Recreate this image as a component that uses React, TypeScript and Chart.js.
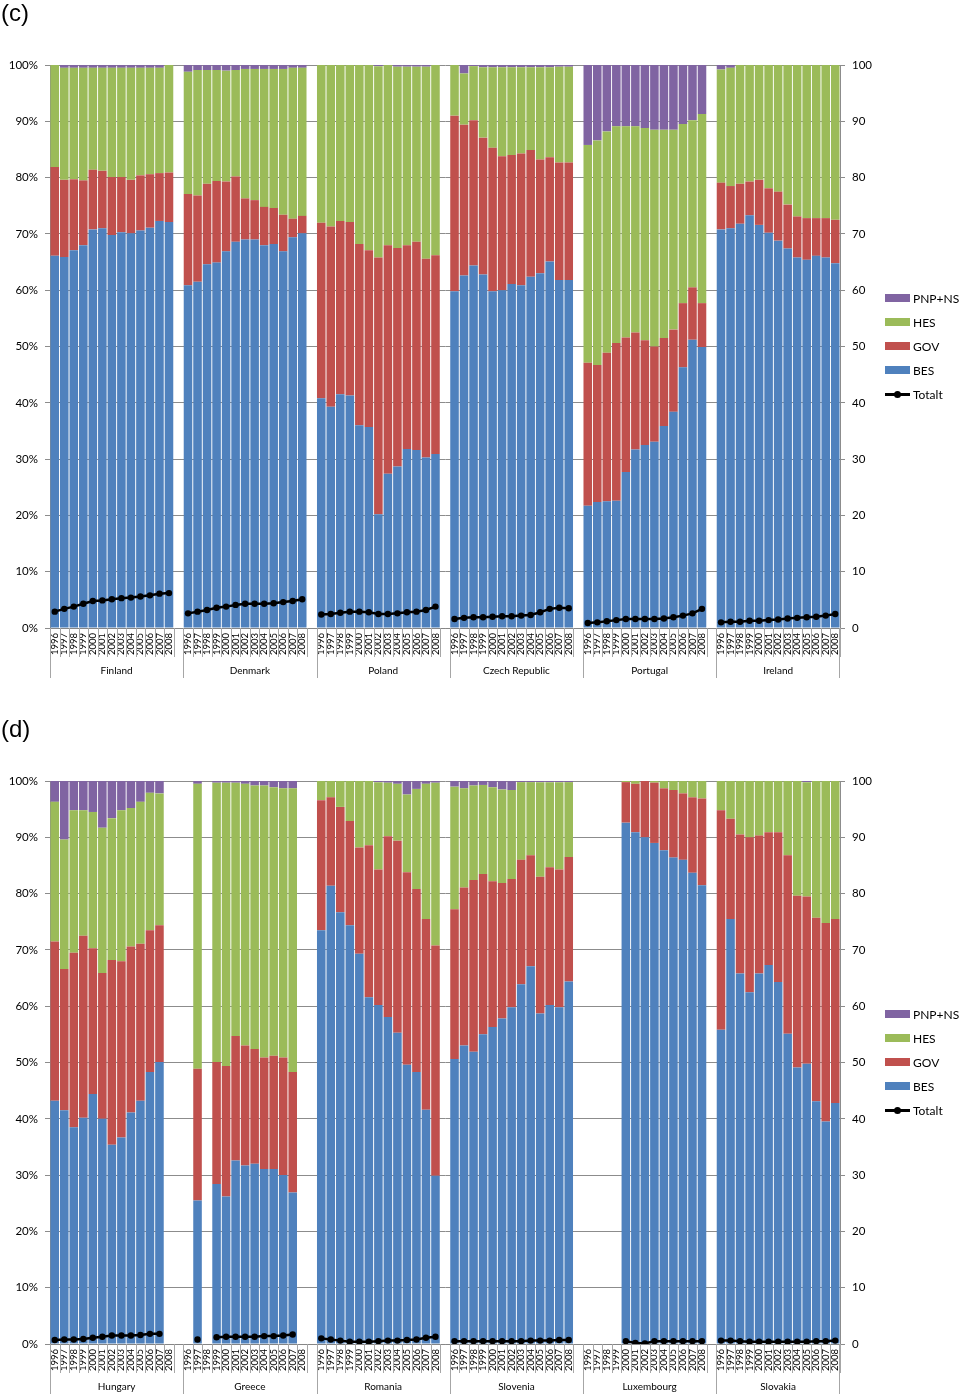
import React, { useEffect, useRef } from 'react';
import { Chart, registerables } from 'chart.js';
Chart.register(...registerables);

const YEARS = ['1996','1997','1998','1999','2000','2001','2002','2003','2004','2005','2006','2007','2008'];
const COUNTRIES_C = ['Finland', 'Denmark', 'Poland', 'Czech Republic', 'Portugal', 'Ireland'];
const COUNTRIES_D = ['Hungary', 'Greece', 'Romania', 'Slovenia', 'Luxembourg', 'Slovakia'];
const N = null;

const BES_C = [
  [66.1,65.9,67.1,68.0,70.8,71.0,69.8,70.3,70.1,70.6,71.1,72.3,72.1],
  [60.9,61.5,64.6,64.9,66.9,68.6,69.0,69.0,68.0,68.2,66.9,69.4,70.1],
  [40.8,39.3,41.5,41.3,36.0,35.7,20.2,27.4,28.7,31.8,31.6,30.3,30.9],
  [59.8,62.6,64.4,62.8,59.8,60.0,61.1,60.9,62.4,63.0,65.1,61.8,61.8],
  [21.7,22.4,22.5,22.6,27.7,31.7,32.5,33.1,35.9,38.4,46.3,51.2,49.9],
  [70.8,71.0,71.8,73.3,71.6,70.2,68.8,67.4,65.8,65.4,66.1,65.8,64.8],
];
const GOV_C = [
  [15.8,13.7,12.6,11.5,10.6,10.2,10.3,9.8,9.5,9.8,9.5,8.5,8.8],
  [16.2,15.3,14.3,14.5,12.4,11.6,7.3,7.0,6.8,6.4,6.5,3.3,3.1],
  [31.2,32.0,30.8,30.8,32.2,31.4,45.6,40.6,38.8,36.2,37.0,35.3,35.3],
  [31.2,26.8,25.8,24.3,25.5,23.8,22.9,23.4,22.5,20.2,18.5,20.9,20.9],
  [25.4,24.3,26.4,28.0,23.9,20.8,18.6,16.9,15.6,14.6,11.4,9.3,7.8],
  [8.3,7.5,7.1,6.0,8.0,7.9,8.7,7.8,7.3,7.4,6.7,7.0,7.7],
];
const HES_C = [
  [18.1,19.9,19.8,20.0,18.1,18.3,19.4,19.4,19.9,19.1,18.9,18.7,19.1],
  [21.7,22.3,20.2,19.7,19.7,18.9,23.0,23.3,24.5,24.7,25.9,26.8,26.3],
  [28.0,28.7,27.7,27.9,31.8,32.9,34.0,32.0,32.2,31.7,31.1,34.1,33.8],
  [9.0,9.1,9.6,12.5,14.3,15.8,15.6,15.3,14.7,16.4,16.0,17.0,17.0],
  [38.7,39.9,39.3,38.5,37.5,36.6,37.7,38.5,37.0,35.5,31.8,29.7,33.6],
  [20.1,21.0,21.1,20.7,20.4,21.9,22.5,24.8,26.9,27.2,27.2,27.2,27.5],
];
const PNP_C = [
  [0,0.5,0.5,0.5,0.5,0.5,0.5,0.5,0.5,0.5,0.5,0.5,0],
  [1.2,0.9,0.9,0.9,1.0,0.9,0.7,0.7,0.7,0.7,0.7,0.5,0.5],
  [0,0,0,0,0,0,0.2,0,0.3,0.3,0.3,0.3,0],
  [0,1.5,0.2,0.4,0.4,0.4,0.4,0.4,0.4,0.4,0.4,0.3,0.3],
  [14.2,13.4,11.8,10.9,10.9,10.9,11.2,11.5,11.5,11.5,10.5,9.8,8.7],
  [0.8,0.5,0,0,0,0,0,0,0,0,0,0,0],
];
const TOT_C = [
  [2.9,3.4,3.8,4.3,4.8,4.9,5.1,5.3,5.4,5.6,5.8,6.1,6.2],
  [2.6,2.9,3.2,3.6,3.8,4.1,4.3,4.3,4.3,4.4,4.6,4.8,5.1],
  [2.4,2.5,2.7,2.9,2.9,2.8,2.5,2.5,2.6,2.8,2.9,3.2,3.8],
  [1.6,1.8,1.9,1.9,2.0,2.1,2.1,2.2,2.3,2.8,3.4,3.6,3.5],
  [0.9,1.0,1.2,1.4,1.6,1.6,1.6,1.6,1.7,1.9,2.2,2.6,3.4],
  [1.0,1.1,1.1,1.3,1.3,1.4,1.5,1.7,1.8,1.9,2.0,2.2,2.5],
];

const BES_D = [
  [43.2,41.5,38.5,40.2,44.4,40.0,35.4,36.7,41.1,43.2,48.3,50.1,N],
  [N,25.5,N,28.4,26.2,32.6,31.7,32.0,31.1,31.1,30.0,26.9,N],
  [73.5,81.4,76.7,74.4,69.3,61.6,60.2,58.1,55.3,49.6,48.3,41.6,29.9],
  [50.6,53.0,51.9,55.0,56.3,57.8,59.8,63.9,67.1,58.7,60.2,59.8,64.4],
  [N,N,N,N,92.6,90.9,90.0,89.0,87.7,86.4,86.0,83.7,81.5],
  [55.8,75.5,65.8,62.5,65.8,67.3,64.3,55.1,49.1,49.8,43.1,39.5,42.8],
];
const GOV_D = [
  [28.3,25.1,31.0,32.3,25.9,25.9,32.8,31.3,29.5,27.9,25.2,24.3,N],
  [N,23.4,N,21.7,23.2,22.1,21.3,20.4,19.8,20.1,20.9,21.4,N],
  [23.1,15.7,18.7,18.5,18.9,27.0,24.1,32.1,34.1,34.2,32.5,33.9,40.9],
  [26.6,28.1,30.5,28.5,25.9,24.1,22.8,22.1,19.7,24.3,24.5,24.5,22.1],
  [N,N,N,N,7.2,8.6,10.0,10.7,11.0,12.0,11.8,13.4,15.4],
  [39.0,17.8,24.7,27.5,24.5,23.6,26.6,31.7,30.5,29.7,32.6,35.3,32.7],
];
const HES_D = [
  [24.8,23.0,25.3,22.3,24.2,25.8,25.2,26.8,24.6,25.2,24.4,23.4,N],
  [N,50.6,N,49.6,50.3,45.0,46.5,46.8,48.3,47.7,47.8,50.4,N],
  [3.4,2.9,4.6,7.1,11.8,11.4,15.5,9.5,10.1,13.8,17.8,24.0,28.9],
  [21.8,17.6,16.8,15.8,16.7,16.6,15.8,13.8,13.0,16.8,15.1,15.5,13.3],
  [N,N,N,N,0.2,0.5,0,0.3,1.3,1.6,2.2,2.9,3.1],
  [5.2,6.7,9.5,10.0,9.7,9.1,9.1,13.2,20.4,20.3,24.3,25.2,24.5],
];
const PNP_D = [
  [3.7,10.4,5.2,5.2,5.5,8.3,6.6,5.2,4.8,3.7,2.1,2.2,N],
  [N,0.5,N,0.3,0.3,0.3,0.5,0.8,0.8,1.1,1.3,1.3,N],
  [0,0,0,0,0,0,0.2,0.3,0.5,2.4,1.4,0.5,0.3],
  [1.0,1.3,0.8,0.7,1.1,1.5,1.6,0.2,0.2,0.2,0.2,0.2,0.2],
  [N,N,N,N,0,0,0,0,0,0,0,0,0],
  [0,0,0,0,0,0,0,0,0,0.2,0,0,0],
];
const TOT_D = [
  [0.7,0.8,0.8,0.9,1.1,1.3,1.5,1.5,1.5,1.6,1.8,1.8,N],
  [N,0.8,N,1.2,1.3,1.3,1.3,1.3,1.4,1.4,1.5,1.7,N],
  [1.0,0.8,0.6,0.4,0.4,0.4,0.5,0.6,0.6,0.7,0.8,1.1,1.3],
  [0.5,0.5,0.5,0.5,0.5,0.5,0.5,0.5,0.6,0.6,0.6,0.7,0.7],
  [N,N,N,N,0.5,0.2,0.1,0.5,0.5,0.5,0.5,0.5,0.5],
  [0.6,0.6,0.5,0.4,0.4,0.4,0.4,0.4,0.4,0.4,0.5,0.5,0.6],
];

const SERIES = ['PNP+NS', 'HES', 'GOV', 'BES'];
const COLORS: Record<string, string> = { 'PNP+NS': '#8064A2', HES: '#9BBB59', GOV: '#C0504D', BES: '#4F81BD' };
const AXIS_FONT = 'Lato, "Liberation Sans", sans-serif';

function flat(a: (number | null)[][]) {
  const out: (number | null)[] = [];
  a.forEach((c, i) => { out.push(...c); if (i < a.length - 1) out.push(null); });
  return out;
}

type PanelProps = {
  top: number; height: number; title: string; countries: string[];
  bes: (number | null)[][]; gov: (number | null)[][]; hes: (number | null)[][];
  pnp: (number | null)[][]; tot: (number | null)[][];
};

function Panel({ top, height, title, countries, bes, gov, hes, pnp, tot }: PanelProps) {
  const ref = useRef<HTMLCanvasElement>(null);
  useEffect(() => {
    const labels: string[] = [];
    countries.forEach((c, i) => { labels.push(...YEARS); if (i < countries.length - 1) labels.push(''); });
    const groupPlugin = {
      id: 'groups',
      afterDraw(chart: any) {
        const x = chart.scales.x;
        const ctx = chart.ctx;
        const bottom = chart.chartArea.bottom;
        const n = labels.length;
        const slot = x.getPixelForValue(1) - x.getPixelForValue(0);
        const left = x.getPixelForValue(0) - slot / 2;
        ctx.save();
        ctx.strokeStyle = '#a6a6a6';
        ctx.lineWidth = 1;
        ctx.beginPath();
        for (let b = 0; b <= n; b++) {
          const px = Math.round(left + b * slot) + 0.5;
          ctx.moveTo(px, bottom);
          ctx.lineTo(px, bottom + 29);
        }
        let start = 0;
        ctx.fillStyle = '#000';
        ctx.font = '10px ' + AXIS_FONT;
        ctx.textAlign = 'center';
        ctx.textBaseline = 'middle';
        countries.forEach((c, i) => {
          const len = i < countries.length - 1 ? 14 : 13;
          const x0 = left + start * slot;
          const x1 = left + (start + len) * slot;
          const p0 = Math.round(x0) + 0.5;
          ctx.moveTo(p0, bottom);
          ctx.lineTo(p0, bottom + 50);
          if (i === countries.length - 1) {
            const p1 = Math.round(x1) - 0.5;
            ctx.moveTo(p1, bottom);
            ctx.lineTo(p1, bottom + 50);
          }
          ctx.fillText(c, (x0 + x1) / 2, bottom + 43);
          start += len;
        });
        ctx.stroke();
        ctx.restore();
      },
    };
    const seriesData: Record<string, (number | null)[][]> = { BES: bes, GOV: gov, HES: hes, 'PNP+NS': pnp };
    const barSets = ['BES', 'GOV', 'HES', 'PNP+NS'].map((s) => ({
      type: 'bar' as const,
      label: s,
      data: flat(seriesData[s]),
      backgroundColor: COLORS[s],
      borderWidth: 0,
      barPercentage: 0.9,
      categoryPercentage: 1,
      yAxisID: 'y',
      stack: 's',
      order: 1,
    }));
    const lineSet = {
      type: 'line' as const,
      label: 'Totalt',
      data: flat(tot),
      borderColor: '#000',
      backgroundColor: '#000',
      borderWidth: 2.5,
      pointRadius: 3.2,
      pointBackgroundColor: '#000',
      pointBorderWidth: 0,
      spanGaps: false,
      yAxisID: 'y1',
      order: 0,
    };
    const chart = new Chart(ref.current!, {
      type: 'bar',
      data: { labels, datasets: [...barSets, lineSet] as any },
      options: {
        responsive: false,
        animation: false,
        devicePixelRatio: 1,
        layout: { padding: { top: 65, bottom: height - 678, left: 0, right: 0 } },
        plugins: { legend: { display: false }, tooltip: { enabled: false } },
        scales: {
          x: {
            type: 'category',
            stacked: true,
            offset: true,
            grid: { display: true, drawOnChartArea: false, drawTicks: false },
            border: { display: true, color: '#868686' },
            ticks: {
              autoSkip: false, maxRotation: 90, minRotation: 90, padding: 5,
              color: '#000', font: { family: AXIS_FONT, size: 9.5 },
            },
            afterFit: (s: any) => { s.height = 50; },
          },
          y: {
            type: 'linear', position: 'left', stacked: true, min: 0, max: 100,
            grid: { color: '#8c8c8c', tickLength: 5 },
            border: { display: true, color: '#8c8c8c' },
            ticks: { stepSize: 10, padding: 7, color: '#000', font: { family: AXIS_FONT, size: 11.5 }, callback: (v: any) => v + '%' },
            afterFit: (s: any) => { s.width = 50; },
          },
          y1: {
            type: 'linear', position: 'right', stacked: false, min: 0, max: 100,
            grid: { drawOnChartArea: false, color: '#8c8c8c', tickLength: 5 },
            border: { display: true, color: '#8c8c8c' },
            ticks: { stepSize: 10, padding: 7, color: '#000', font: { family: AXIS_FONT, size: 11.5 } },
            afterFit: (s: any) => { s.width = 120; },
          },
        },
      },
      plugins: [groupPlugin],
    });
    return () => chart.destroy();
  }, []);

  const legendItems = [...SERIES, 'Totalt'];
  return (
    <div style={{ position: 'absolute', left: 0, top, width: 960, height }}>
      <canvas ref={ref} width={960} height={height} style={{ position: 'absolute', left: 0, top: 0, width: 960, height }} />
      <div style={{ position: 'absolute', left: 1, top: 0, font: '24px "Liberation Sans", Arial, sans-serif', lineHeight: '26px', color: '#000' }}>{title}</div>
      {legendItems.map((s, i) => (
        <div key={s} style={{ position: 'absolute', left: 885, top: 298 + i * 24 - 8, height: 16, display: 'flex', alignItems: 'center', font: '12px ' + AXIS_FONT, color: '#000' }}>
          {s === 'Totalt' ? (
            <div style={{ position: 'relative', width: 25, height: 8, marginRight: 3 }}>
              <div style={{ position: 'absolute', left: 0, top: 2.5, width: 25, height: 3, background: '#000' }} />
              <div style={{ position: 'absolute', left: 9, top: 0.5, width: 7, height: 7, borderRadius: 4, background: '#000' }} />
            </div>
          ) : (
            <div style={{ width: 25, height: 8, background: COLORS[s], marginRight: 3 }} />
          )}
          <span>{s}</span>
        </div>
      ))}
    </div>
  );
}

export default function App() {
  return (
    <div style={{ position: 'absolute', left: 0, top: 0, width: 960, height: 1397, overflow: 'hidden', background: '#fff' }}>
      <Panel top={0} height={700} title="(c)" countries={COUNTRIES_C} bes={BES_C} gov={GOV_C} hes={HES_C} pnp={PNP_C} tot={TOT_C} />
      <Panel top={716} height={681} title="(d)" countries={COUNTRIES_D} bes={BES_D} gov={GOV_D} hes={HES_D} pnp={PNP_D} tot={TOT_D} />
    </div>
  );
}
